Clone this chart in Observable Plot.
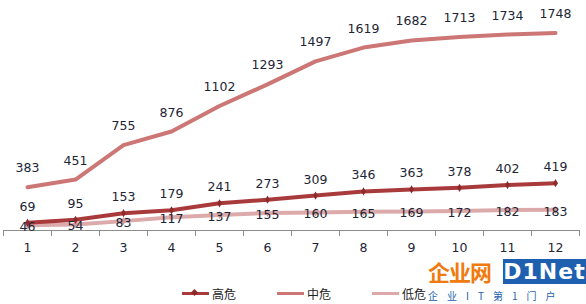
<!DOCTYPE html>
<html><head><meta charset="utf-8">
<script src="https://cdn.jsdelivr.net/npm/d3@7"></script>
<script src="https://cdn.jsdelivr.net/npm/@observablehq/plot@0.6"></script>
<style>
body{margin:0;background:#fff;width:586px;height:304px;overflow:hidden;position:relative;font-family:"DejaVu Sans",sans-serif}
#legend{position:absolute;left:0;top:282px;height:22px;display:flex;padding-left:182px;font-family:"Noto Sans CJK SC",sans-serif;font-size:12px;color:#222}
.item{width:95px;display:flex;align-items:center;height:22px}
.sw{width:27px;height:3px;position:relative;margin-right:3px}
.sw i{position:absolute;left:10px;top:-2px;width:5px;height:5px;transform:rotate(45deg)}
#wm{position:absolute;left:428px;top:258px;width:158px;height:46px}
</style></head><body>
<div id="chart"></div>
<div id="legend"></div>
<div id="wm">
 <div style="position:absolute;left:0;top:0;font:bold 22px 'Noto Sans CJK SC';color:#f07a10;letter-spacing:-1px;line-height:26px">企业网</div>
 <div style="position:absolute;left:75px;top:1px;width:83px;height:25px;background:#1e5fb0;color:#fff;font:bold 22px 'DejaVu Sans';line-height:25px;text-align:center;letter-spacing:1px">D1Net</div>
 <div style="position:absolute;left:0;top:30px;font:10px 'Noto Sans CJK SC';color:#1e5fb0;letter-spacing:9px;white-space:nowrap">企业IT第1门户</div>
</div>
<script>
const months = [1,2,3,4,5,6,7,8,9,10,11,12];
const seriesNames = ["高危","中危","低危"];
const high = [69,95,153,179,241,273,309,346,363,378,402,419];
const mid = [383,451,755,876,1102,1293,1497,1619,1682,1713,1734,1748];
const low = [46,54,83,117,137,155,160,165,169,172,182,183];
const colors = ["#a93a3b","#cc7675","#dcaaaa"];
const tickBounds = d3.range(0.5, 13, 1);

const H = months.map((m,i)=>({m, v: high[i]}));
const M = months.map((m,i)=>({m, v: mid[i]}));
const L = months.map((m,i)=>({m, v: low[i]}));
const txt = {fontSize: 12.5, fill: "#1d2536", fontFamily: "DejaVu Sans"};

const chart = Plot.plot({
  width: 586, height: 272,
  marginLeft: 3, marginRight: 7, marginTop: 4, marginBottom: 42,
  x: {domain: [0.5, 12.5], axis: null},
  y: {domain: [0, 2000], axis: null},
  marks: [
    Plot.ruleY([0], {x1: 0.5, x2: 12.5, stroke: "#8c8c8c"}),
    Plot.axisX({ticks: tickBounds, tickFormat: () => "", tickSize: 6, stroke: "#8c8c8c", label: null}),
    Plot.axisX({ticks: months, tickFormat: d => String(d), tickSize: 0, tickPadding: 13, fontSize: 12.5, fill: "#1d2536", fontFamily: "DejaVu Sans", label: null}),
    Plot.line(L, {x: "m", y: "v", stroke: colors[2], strokeWidth: 4}),
    Plot.dot(L, {x: "m", y: "v", symbol: "diamond", r: 2.5, fill: "#d39b9b"}),
    Plot.line(M, {x: "m", y: "v", stroke: colors[1], strokeWidth: 4}),
    Plot.line(H, {x: "m", y: "v", stroke: colors[0], strokeWidth: 4}),
    Plot.dot(H, {x: "m", y: "v", symbol: "diamond", r: 2.5, fill: "#8e2a2b"}),
    Plot.text(M, {x: "m", y: "v", text: d => String(d.v), dy: -19, ...txt}),
    Plot.text(H, {x: "m", y: "v", text: d => String(d.v), dy: -16, ...txt}),
    Plot.text(L, {x: "m", y: "v", text: d => String(d.v), dy: 2, ...txt})
  ]
});
document.getElementById("chart").appendChild(chart);

const lg = document.getElementById("legend");
seriesNames.forEach((n,i)=>{
  const it = document.createElement("div"); it.className="item";
  const sw = document.createElement("div"); sw.className="sw"; sw.style.background = colors[i];
  if (i===0){ const m=document.createElement("i"); m.style.background="#8e2a2b"; sw.appendChild(m); }
  const t = document.createElement("span"); t.textContent = n;
  it.appendChild(sw); it.appendChild(t); lg.appendChild(it);
});
</script>
</body></html>
